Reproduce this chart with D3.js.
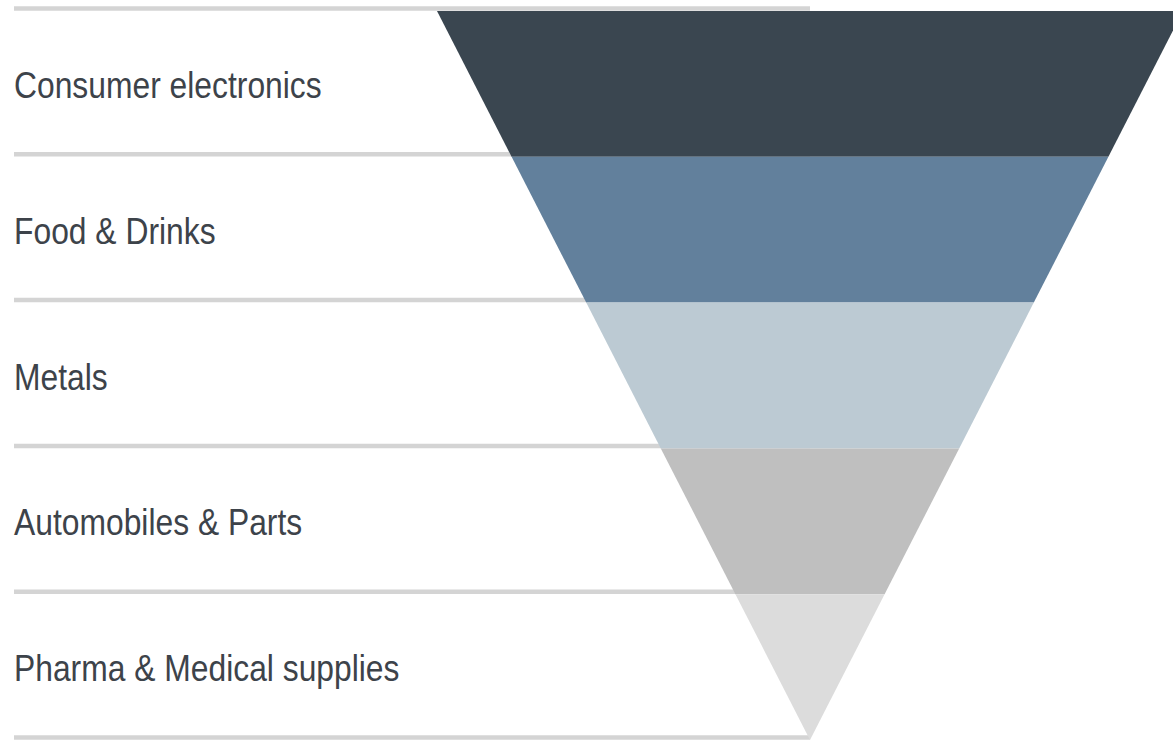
<!doctype html>
<html>
  <head>
    <script src="https://cdn.jsdelivr.net/npm/d3@7/dist/d3.min.js"></script>
    <style>
      body { margin: 0; background: #fff; }
      text { font-family: "Liberation Sans", Arial, sans-serif; }
    </style>
  </head>
  <body>
    <svg id="chart" width="1173" height="740"></svg>

    <script>
      // funnel stages, top to bottom (every stage gets the same height)
      var categories = ["Consumer electronics", "Food & Drinks", "Metals", "Automobiles & Parts", "Pharma & Medical supplies"];
      var colors = ["#3a4650", "#62809c", "#bccad3", "#bfbfbf", "#dcdcdc"];

      var svg = d3.select("#chart");

      // vertical position of each stage
      var y = d3.scaleBand()
        .domain(categories)
        .range([11, 740])
        .padding(0);

      // half width of the funnel at a given y, shrinking to the tip
      var cx = 810;
      var half = d3.scaleLinear()
        .domain([11, 740])
        .range([373, 0]);

      // grey rules between the labels, behind the funnel
      var ruleYs = categories.map(function(c) { return y(c); }).concat([740]);
      svg.selectAll("line.rule")
        .data(ruleYs)
        .enter()
        .append("line")
          .attr("class", "rule")
          .attr("x1", 14)
          .attr("x2", cx)
          .attr("y1", function(d) { return d - 2.5; })
          .attr("y2", function(d) { return d - 2.5; })
          .attr("stroke", "#d4d4d4")
          .attr("stroke-width", 4.5);

      // the funnel slices
      svg.selectAll("path.slice")
        .data(categories)
        .enter()
        .append("path")
          .attr("class", "slice")
          .attr("fill", function(d, i) { return colors[i]; })
          .attr("d", function(d) {
            var y0 = y(d), y1 = y(d) + y.bandwidth();
            return "M" + (cx - half(y0)) + "," + y0 +
              "L" + (cx + half(y0)) + "," + y0 +
              "L" + (cx + half(y1)) + "," + y1 +
              "L" + (cx - half(y1)) + "," + y1 + "Z";
          });

      // labels, squeezed sideways to look like a narrow font
      svg.selectAll("text.label")
        .data(categories)
        .enter()
        .append("text")
          .attr("class", "label")
          .attr("transform", function(d) {
            return "translate(14," + (y(d) + y.bandwidth() / 2 + 14) + ") scale(0.86,1)";
          })
          .attr("fill", "#3d434a")
          .attr("font-size", 37)
          .text(function(d) { return d; });
    </script>
  </body>
</html>
